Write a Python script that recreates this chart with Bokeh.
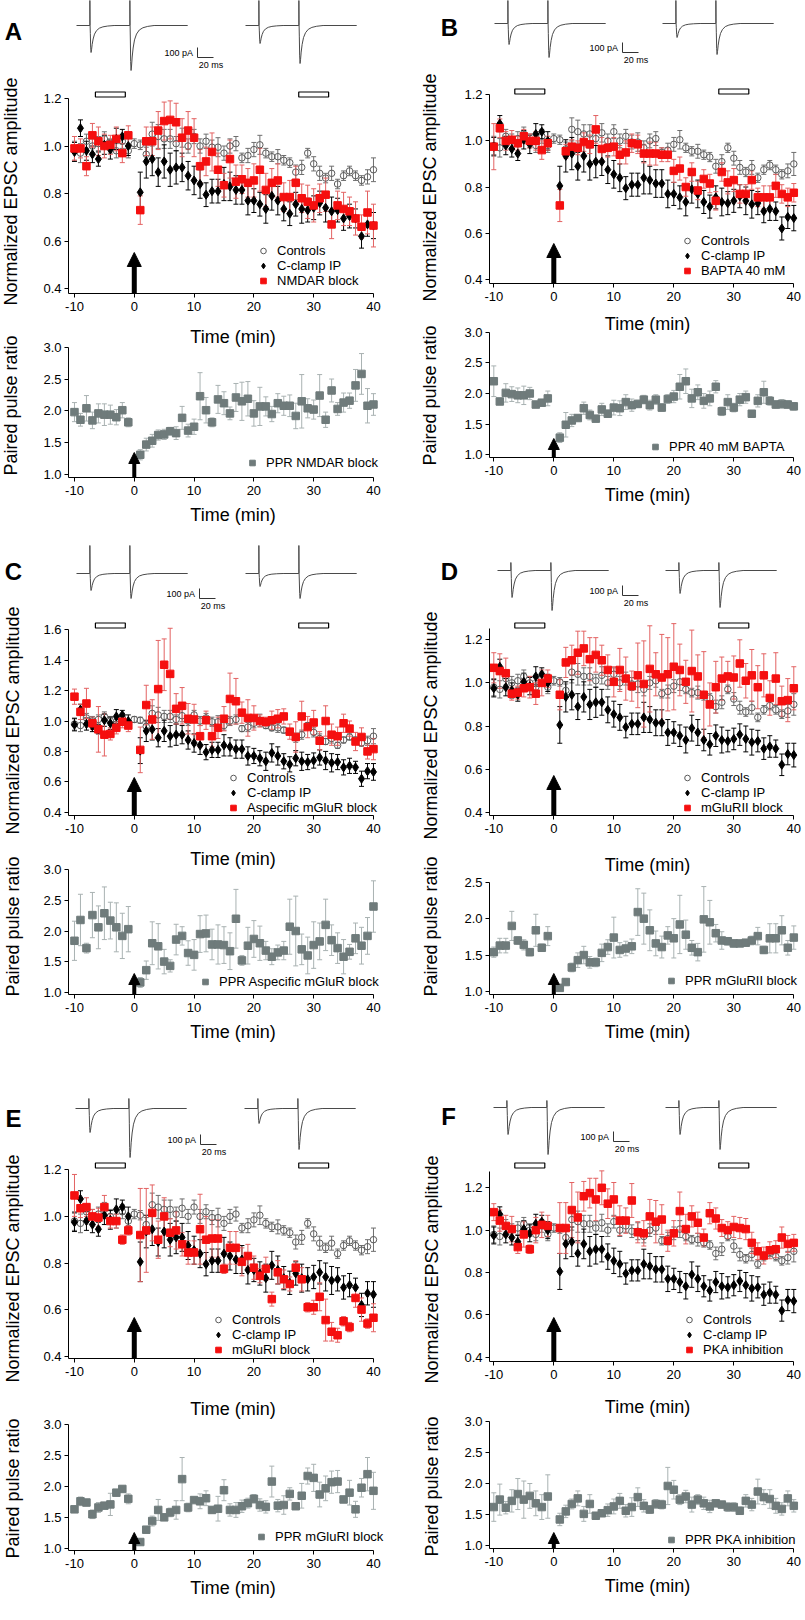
from bokeh.plotting import figure
from bokeh.layouts import row, column
from bokeh.models import (Range1d, FixedTicker, NumeralTickFormatter, Whisker, TeeHead,
                          ColumnDataSource, Legend, LegendItem, Label, Arrow, NormalHead)
from bokeh.embed import file_html
from bokeh.resources import INLINE

FONT = "Liberation Sans"

# ---------------- data ----------------
T_PRE = list(range(-10, 0))
T_POST = list(range(1, 41))
T_CTRL = list(range(-10, 41))
X_TICKS = [-10, 0, 10, 20, 30, 40]
TOP_TICKS = [0.4, 0.6, 0.8, 1.0, 1.2]
TOP_TICKS_C = [0.4, 0.6, 0.8, 1.0, 1.2, 1.4, 1.6]
PPR_TICKS = [1.0, 1.5, 2.0, 2.5, 3.0]
PPR_TICKS_D = [1.0, 1.5, 2.0, 2.5]
BAR_LEFT = [-6.5, 27.5]
BAR_RIGHT = [-1.5, 32.5]

CTRL = [0.98, 0.97, 1.02, 1.00, 1.01, 1.03, 1.00, 0.98, 1.02, 0.98,
        1.01,
        1.005, 0.965, 1.05, 1.04, 1.03, 1.03, 1.01, 1.035, 1.00, 1.04,
        1.00, 1.02, 0.995, 0.995, 0.97, 1.00, 1.01, 0.95, 0.96, 0.985,
        1.005, 0.97, 0.955, 0.955, 0.94, 0.93, 0.89, 0.91, 0.97, 0.925,
        0.885, 0.865, 0.885, 0.84, 0.875, 0.895, 0.875, 0.855, 0.87, 0.90]
CTRL_ERR = [0.04, 0.04, 0.03, 0.03, 0.03, 0.03, 0.03, 0.03, 0.03, 0.03,
            0.02,
            0.02, 0.03, 0.05, 0.05, 0.04, 0.04, 0.03, 0.04, 0.03, 0.03,
            0.03, 0.03, 0.03, 0.04, 0.03, 0.03, 0.03, 0.02, 0.03, 0.03,
            0.04, 0.02, 0.02, 0.03, 0.02, 0.02, 0.03, 0.03, 0.02, 0.03,
            0.03, 0.02, 0.03, 0.02, 0.02, 0.02, 0.02, 0.02, 0.03, 0.05]

CCLAMP = [0.975, 1.075, 0.98, 0.965, 0.945, 1.005, 0.985, 1.03, 1.04, 1.0,
          0.805, 0.935, 0.945, 0.89, 0.935, 0.90, 0.91, 0.91, 0.875, 0.855,
          0.84, 0.795, 0.81, 0.81, 0.84, 0.83, 0.815, 0.815, 0.77, 0.77,
          0.755, 0.735, 0.79, 0.77, 0.735, 0.715, 0.755, 0.735, 0.73, 0.74,
          0.76, 0.74, 0.725, 0.73, 0.695, 0.705, 0.695, 0.62, 0.67, 0.665]
CCLAMP_ERR = [0.04, 0.035, 0.04, 0.035, 0.03, 0.04, 0.04, 0.045, 0.03, 0.04,
              0.085, 0.07, 0.07, 0.06, 0.07, 0.07, 0.07, 0.06, 0.06, 0.06,
              0.06, 0.05, 0.05, 0.05, 0.07, 0.06, 0.06, 0.06, 0.06, 0.05,
              0.05, 0.06, 0.06, 0.06, 0.05, 0.05, 0.05, 0.06, 0.05, 0.05,
              0.05, 0.06, 0.06, 0.05, 0.05, 0.05, 0.04, 0.05, 0.05, 0.055]

NMDAR = [0.99, 0.99, 0.915, 1.045, 1.02, 1.0, 1.005, 1.03, 0.97, 1.045,
         0.73, 1.02, 1.02, 1.065, 1.105, 1.11, 1.10, 1.035, 1.065, 1.035,
         0.915, 0.935, 0.975, 0.90, 0.835, 0.945, 0.85, 0.86, 0.845, 0.855,
         0.90, 0.815, 0.845, 0.855, 0.785, 0.785, 0.845, 0.78, 0.765, 0.75,
         0.78, 0.795, 0.67, 0.75, 0.735, 0.725, 0.695, 0.66, 0.72, 0.665]
NMDAR_ERR = [0.05, 0.04, 0.04, 0.05, 0.06, 0.05, 0.04, 0.05, 0.04, 0.04,
             0.06, 0.06, 0.06, 0.08, 0.08, 0.08, 0.08, 0.08, 0.08, 0.08,
             0.07, 0.06, 0.08, 0.07, 0.05, 0.08, 0.07, 0.06, 0.06, 0.07,
             0.09, 0.07, 0.06, 0.07, 0.06, 0.07, 0.07, 0.06, 0.07, 0.07,
             0.06, 0.07, 0.06, 0.06, 0.07, 0.06, 0.07, 0.05, 0.09, 0.09]
NMDAR_PPR = [1.98, 1.86, 2.04, 1.85, 1.96, 1.94, 1.94, 1.90, 2.01, 1.82,
             1.31, 1.47, 1.53, 1.62, 1.63, 1.68, 1.65, 1.89, 1.69, 1.75,
             2.23, 2.01, 1.82, 2.18, 2.12, 1.96, 2.21, 2.15, 2.19, 1.96,
             2.07, 2.07, 1.95, 2.12, 2.08, 2.08, 1.92, 2.15, 2.04, 2.02,
             2.24, 1.86, 2.32, 2.03, 2.13, 2.16, 2.40, 2.58, 2.08, 2.10]
NMDAR_PPR_ERR = [0.15, 0.1, 0.2, 0.13, 0.15, 0.17, 0.15, 0.12, 0.12, 0.07,
                 0.08, 0.1, 0.1, 0.08, 0.08, 0.06, 0.1, 0.18, 0.1, 0.12,
                 0.37, 0.2, 0.07, 0.22, 0.18, 0.1, 0.22, 0.3, 0.27, 0.2,
                 0.3, 0.15, 0.12, 0.15, 0.15, 0.17, 0.2, 0.42, 0.15, 0.15,
                 0.33, 0.12, 0.18, 0.1, 0.15, 0.12, 0.25, 0.32, 0.27, 0.17]

BAPTA = [0.975, 1.055, 1.0, 1.005, 0.99, 1.02, 1.0, 1.0, 0.96, 0.99,
         0.72, 0.955, 0.975, 0.97, 0.995, 0.985, 1.05, 0.965, 0.97, 0.975,
         0.94, 0.95, 0.99, 0.985, 0.945, 0.945, 0.945, 0.94, 0.94, 0.87,
         0.88, 0.80, 0.865, 0.785, 0.835, 0.815, 0.74, 0.865, 0.82, 0.83,
         0.77, 0.77, 0.83, 0.755, 0.755, 0.755, 0.805, 0.77, 0.755, 0.775]
BAPTA_ERR = [0.1, 0.04, 0.04, 0.04, 0.03, 0.03, 0.03, 0.04, 0.04, 0.03,
             0.07, 0.03, 0.03, 0.03, 0.04, 0.04, 0.06, 0.05, 0.04, 0.04,
             0.04, 0.05, 0.04, 0.04, 0.04, 0.05, 0.05, 0.03, 0.03, 0.05,
             0.05, 0.04, 0.04, 0.04, 0.04, 0.04, 0.04, 0.04, 0.05, 0.05,
             0.04, 0.04, 0.04, 0.04, 0.05, 0.05, 0.05, 0.04, 0.04, 0.04]
BAPTA_PPR = [2.20, 1.87, 2.01, 1.99, 1.97, 1.97, 2.00, 1.82, 1.85, 1.92,
             1.28, 1.49, 1.56, 1.60, 1.76, 1.65, 1.59, 1.74, 1.67, 1.77,
             1.76, 1.86, 1.81, 1.83, 1.90, 1.81, 1.90, 1.77, 1.91, 1.95,
             2.11, 2.20, 1.92, 2.02, 1.88, 1.92, 2.11, 1.71, 1.86, 1.77,
             1.90, 1.94, 1.67, 1.88, 2.02, 1.88, 1.82, 1.83, 1.82, 1.79]
BAPTA_PPR_ERR = [0.25, 0.05, 0.15, 0.12, 0.12, 0.15, 0.1, 0.05, 0.05, 0.12,
                 0.08, 0.2, 0.1, 0.05, 0.1, 0.08, 0.05, 0.1, 0.06, 0.12,
                 0.12, 0.12, 0.1, 0.06, 0.07, 0.08, 0.08, 0.06, 0.07, 0.1,
                 0.2, 0.2, 0.15, 0.12, 0.12, 0.12, 0.1, 0.07, 0.12, 0.07,
                 0.1, 0.1, 0.05, 0.1, 0.18, 0.07, 0.06, 0.07, 0.06, 0.06]

MGLUR = [1.16, 1.06, 1.115, 0.985, 0.945, 0.91, 0.915, 0.955, 0.995, 0.97,
         0.81, 1.105, 1.01, 1.21, 1.37, 1.31, 1.08, 1.10, 1.015, 1.01,
         0.90, 1.005, 0.90, 0.955, 1.015, 1.145, 1.13, 1.055, 1.02, 1.02,
         1.0, 0.995, 1.005, 1.015, 1.03, 0.93, 0.895, 1.03, 0.96, 0.99,
         0.87, 1.0, 0.91, 0.90, 0.985, 0.95, 0.865, 0.895, 0.80, 0.815]
MGLUR_ERR = [0.05, 0.05, 0.1, 0.04, 0.15, 0.14, 0.04, 0.04, 0.04, 0.04,
             0.15, 0.13, 0.13, 0.32, 0.17, 0.3, 0.1, 0.12, 0.1, 0.1,
             0.07, 0.06, 0.07, 0.07, 0.08, 0.17, 0.15, 0.07, 0.12, 0.08,
             0.04, 0.03, 0.06, 0.06, 0.05, 0.05, 0.1, 0.1, 0.07, 0.08,
             0.06, 0.1, 0.07, 0.06, 0.06, 0.05, 0.06, 0.06, 0.05, 0.07]
MGLUR_PPR = [1.84, 2.18, 1.72, 2.26, 2.06, 2.29, 2.17, 2.06, 1.92, 2.03,
             1.16, 1.36, 1.80, 1.75, 1.50, 1.43, 1.86, 1.92, 1.64, 1.61,
             1.95, 1.96, 1.78, 1.78, 1.77, 1.67, 2.20, 1.52, 1.76, 1.87,
             1.80, 1.68, 1.58, 1.65, 1.68, 2.07, 2.00, 1.70, 1.60, 1.77,
             1.83, 2.10, 1.85, 1.72, 1.58, 1.66, 1.88, 1.76, 1.92, 2.40]
MGLUR_PPR_ERR = [0.32, 0.42, 0.08, 0.37, 0.35, 0.43, 0.3, 0.4, 0.37, 0.37,
                 0.08, 0.15, 0.35, 0.37, 0.2, 0.1, 0.25, 0.15, 0.2, 0.25,
                 0.3, 0.3, 0.25, 0.32, 0.3, 0.3, 0.48, 0.08, 0.3, 0.3,
                 0.28, 0.15, 0.13, 0.12, 0.15, 0.45, 0.57, 0.25, 0.3, 0.38,
                 0.3, 0.42, 0.25, 0.25, 0.28, 0.12, 0.25, 0.3, 0.3, 0.42]

MGLURII = [1.07, 1.055, 1.045, 0.95, 0.955, 0.975, 0.98, 0.95, 1.0, 1.02,
           0.945, 1.095, 1.105, 1.14, 1.16, 1.11, 1.13, 1.105, 1.06, 1.005,
           1.06, 1.02, 0.985, 1.035, 0.995, 1.065, 1.04, 1.025, 1.04, 1.075,
           1.06, 1.005, 1.055, 1.03, 0.945, 0.90, 0.98, 1.02, 1.03, 1.025,
           1.09, 1.01, 1.035, 0.98, 1.035, 0.93, 1.02, 0.915, 0.92, 0.975]
MGLURII_ERR = [0.07, 0.08, 0.07, 0.03, 0.03, 0.04, 0.05, 0.05, 0.06, 0.04,
               0.07, 0.07, 0.07, 0.1, 0.08, 0.1, 0.08, 0.07, 0.07, 0.07,
               0.1, 0.1, 0.07, 0.15, 0.2, 0.2, 0.1, 0.2, 0.17, 0.2,
               0.12, 0.1, 0.19, 0.1, 0.2, 0.1, 0.12, 0.1, 0.07, 0.1,
               0.11, 0.08, 0.12, 0.1, 0.1, 0.08, 0.12, 0.07, 0.1, 0.1]
MGLURII_PPR = [1.54, 1.63, 1.63, 1.90, 1.70, 1.64, 1.54, 1.84, 1.60, 1.76,
               1.05, 1.13, 1.33, 1.43, 1.50, 1.40, 1.40, 1.53, 1.61, 1.74,
               1.57, 1.59, 1.62, 2.09, 2.00, 1.84, 1.66, 1.61, 1.77, 1.73,
               1.92, 1.78, 1.60, 1.54, 1.99, 1.95, 1.80, 1.70, 1.69, 1.66,
               1.66, 1.67, 1.70, 1.76, 1.57, 1.73, 1.73, 1.84, 1.60, 1.74]
MGLURII_PPR_ERR = [0.07, 0.1, 0.1, 0.2, 0.05, 0.07, 0.05, 0.22, 0.05, 0.13,
                   0.03, 0.04, 0.06, 0.1, 0.12, 0.08, 0.06, 0.12, 0.1, 0.28,
                   0.1, 0.1, 0.1, 0.32, 0.35, 0.28, 0.17, 0.15, 0.12, 0.27,
                   0.4, 0.2, 0.1, 0.12, 0.45, 0.3, 0.12, 0.12, 0.05, 0.05,
                   0.04, 0.04, 0.06, 0.12, 0.05, 0.2, 0.2, 0.2, 0.1, 0.16]

MGLURI = [1.09, 1.035, 1.04, 1.0, 0.995, 1.04, 0.98, 0.98, 0.90, 0.94,
          0.92, 0.94, 1.015, 0.90, 1.0, 0.93, 0.94, 0.88, 0.845, 0.845,
          0.945, 0.90, 0.905, 0.905, 0.775, 0.865, 0.865, 0.805, 0.83, 0.78,
          0.745, 0.775, 0.645, 0.76, 0.73, 0.71, 0.78, 0.73, 0.61, 0.61,
          0.655, 0.555, 0.505, 0.49, 0.55, 0.525, 0.65, 0.60, 0.54, 0.565]
MGLURI_ERR = [0.09, 0.04, 0.04, 0.03, 0.04, 0.05, 0.03, 0.03, 0.02, 0.02,
              0.2, 0.18, 0.12, 0.08, 0.08, 0.06, 0.08, 0.05, 0.05, 0.05,
              0.15, 0.1, 0.08, 0.08, 0.02, 0.07, 0.07, 0.06, 0.05, 0.05,
              0.03, 0.05, 0.03, 0.05, 0.04, 0.03, 0.03, 0.05, 0.02, 0.03,
              0.06, 0.09, 0.04, 0.03, 0.02, 0.02, 0.04, 0.05, 0.02, 0.06]
MGLURI_PPR = [1.63, 1.76, 1.74, 1.55, 1.66, 1.69, 1.71, 1.90, 1.96, 1.80,
              1.10, 1.30, 1.44, 1.62, 1.50, 1.58, 1.62, 2.12, 1.66, 1.78,
              1.76, 1.81, 1.62, 1.64, 1.94, 1.62, 1.62, 1.68, 1.73, 1.80,
              1.70, 1.67, 2.08, 1.69, 1.70, 1.88, 1.68, 1.85, 2.17, 2.14,
              1.87, 1.97, 2.07, 2.08, 1.79, 1.90, 1.63, 1.98, 2.20, 1.93]
MGLURI_PPR_ERR = [0.03, 0.07, 0.05, 0.07, 0.08, 0.05, 0.18, 0.04, 0.05, 0.08,
                  0.03, 0.05, 0.08, 0.17, 0.03, 0.07, 0.15, 0.35, 0.07, 0.03,
                  0.12, 0.12, 0.05, 0.2, 0.17, 0.1, 0.12, 0.1, 0.08, 0.07,
                  0.1, 0.1, 0.25, 0.1, 0.15, 0.1, 0.03, 0.2, 0.13, 0.22,
                  0.2, 0.2, 0.18, 0.18, 0.05, 0.2, 0.13, 0.15, 0.27, 0.3]

PKA = [1.085, 1.045, 1.02, 1.005, 0.92, 0.98, 0.91, 1.0, 1.025, 1.02,
       1.01, 1.01, 1.095, 1.06, 1.16, 1.175, 1.145, 1.20, 1.125, 1.145,
       1.045, 1.045, 1.14, 0.99, 0.985, 1.065, 1.04, 1.05, 0.95, 0.985,
       1.09, 1.005, 1.065, 1.035, 0.965, 1.08, 1.055, 1.01, 1.0, 1.015,
       1.01, 1.005, 0.94, 0.90, 0.88, 0.905, 0.91, 0.965, 0.935, 0.94]
PKA_ERR = [0.04, 0.05, 0.05, 0.06, 0.03, 0.06, 0.02, 0.06, 0.06, 0.05,
           0.12, 0.12, 0.13, 0.12, 0.07, 0.07, 0.1, 0.08, 0.07, 0.08,
           0.07, 0.06, 0.08, 0.05, 0.06, 0.08, 0.1, 0.07, 0.05, 0.06,
           0.09, 0.07, 0.05, 0.05, 0.04, 0.05, 0.05, 0.04, 0.04, 0.05,
           0.05, 0.05, 0.05, 0.04, 0.04, 0.04, 0.04, 0.05, 0.04, 0.04]
PKA_PPR = [1.62, 1.74, 1.61, 1.72, 1.83, 1.74, 1.80, 1.68, 1.62, 1.79,
           1.42, 1.55, 1.67, 1.76, 1.51, 1.67, 1.48, 1.52, 1.57, 1.63,
           1.72, 1.56, 1.62, 1.78, 1.64, 1.58, 1.67, 1.66, 1.96, 1.90,
           1.74, 1.79, 1.66, 1.74, 1.68, 1.63, 1.68, 1.66, 1.62, 1.62,
           1.56, 1.72, 1.66, 1.87, 1.78, 1.75, 1.64, 1.59, 1.76, 1.64]
PKA_PPR_ERR = [0.23, 0.25, 0.1, 0.18, 0.25, 0.3, 0.2, 0.2, 0.2, 0.35,
               0.1, 0.1, 0.08, 0.12, 0.12, 0.15, 0.04, 0.04, 0.1, 0.12,
               0.12, 0.1, 0.15, 0.15, 0.1, 0.06, 0.07, 0.07, 0.3, 0.15,
               0.08, 0.1, 0.12, 0.08, 0.1, 0.1, 0.05, 0.05, 0.07, 0.07,
               0.06, 0.1, 0.1, 0.2, 0.12, 0.15, 0.12, 0.1, 0.12, 0.1]

PANEL_LETTERS = ["A", "B", "C", "D", "E", "F"]
RED_LABELS = ["NMDAR block", "BAPTA 40 mM", "Aspecific mGluR block",
              "mGluRII block", "mGluRI block", "PKA inhibition"]
PPR_LABELS = ["PPR NMDAR block", "PPR 40 mM BAPTA", "PPR Aspecific mGluR block",
              "PPR mGluRII block", "PPR mGluRI block", "PPR PKA inhibition"]
RED_SERIES = [NMDAR, BAPTA, MGLUR, MGLURII, MGLURI, PKA]
RED_ERRS = [NMDAR_ERR, BAPTA_ERR, MGLUR_ERR, MGLURII_ERR, MGLURI_ERR, PKA_ERR]
PPR_SERIES = [NMDAR_PPR, BAPTA_PPR, MGLUR_PPR, MGLURII_PPR, MGLURI_PPR, PKA_PPR]
PPR_ERRS = [NMDAR_PPR_ERR, BAPTA_PPR_ERR, MGLUR_PPR_ERR, MGLURII_PPR_ERR,
            MGLURI_PPR_ERR, PKA_PPR_ERR]
TOP_TICK_SETS = [TOP_TICKS, TOP_TICKS, TOP_TICKS_C, TOP_TICKS, TOP_TICKS, TOP_TICKS]
PPR_TICK_SETS = [PPR_TICKS, PPR_TICKS, PPR_TICKS, PPR_TICKS_D, PPR_TICKS, PPR_TICKS]

# example EPSC traces (pA vs ms): stimulus times, waveform template and peak amplitudes
STIM_TIMES = [16.7, 66.7]
TRACE_LEN = 139.0
EPSC_T = [0.0, 0.3, 0.7, 1.2, 1.8, 2.6, 3.8, 5.5, 8.0, 11.5, 16.0, 22.0, 30.0]
EPSC_SHAPE = [0.0, -0.3, -0.8, -1.0, -0.9, -0.7, -0.5, -0.32, -0.19, -0.1, -0.05, -0.02, 0.0]
AMP_BEFORE = [[270, 450], [210, 340], [170, 250], [270, 400], [240, 490], [270, 470]]
AMP_AFTER = [[180, 380], [140, 310], [130, 250], [230, 370], [150, 410], [270, 420]]
ARTIFACT = [300, 300, 300, 80, 100, 70]

for s in RED_SERIES + RED_ERRS + PPR_SERIES + PPR_ERRS + [CCLAMP, CCLAMP_ERR]:
    assert len(s) == 50, len(s)
assert len(CTRL) == 51 and len(CTRL_ERR) == 51

# ---------------- colours / styles ----------------
RED = "#f50f0f"
RED_ERR = "#e36262"
BLK = "#000000"
CTRL_COL = "#5a5a5a"
CTRL_ERR_COL = "#6e6e6e"
PPR_COL = "#6f7b7b"
PPR_ERR_COL = "#a9b2b2"
TRACE_COL = "#4a4a4a"

# ---------------- layout (page pixel positions) ----------------
TOTAL_H = 1615
COLS = [dict(strip_left=0, strip_w=36, fig_left=36, fig_w=361, frame_left=68,
             x_start=-11.0, ppm=5.98),
        dict(strip_left=397, strip_w=62, fig_left=459, fig_w=346, frame_left=489,
             x_start=-10.717, ppm=6.0)]
ROWS = [(0, 545), (545, 1085), (1085, TOTAL_H)]

GEOM = [
    dict(top_cal=(1.2, 98.0, 0.4, 288.0), top_axis_px=98, top_xaxis=293, bar_px=94, arrow_px=252, title_px=336,
         ppr_cal=(3.0, 346.7, 1.0, 474.0), ppr_axis_px=347, ppr_xaxis=477, ppr_arrow_px=452,
         leg=(263, 250), ppr_leg=(252, 462), letter=(13, 31), ylab_x=10, ylab_y=(191, 405),
         tr_x0=76, tr_x1=245, tr_base=25, sb_x=197, sb_top=22),
    dict(top_cal=(1.2, 94.3, 0.4, 278.7), top_axis_px=94, top_xaxis=283, bar_px=91, arrow_px=243, title_px=325,
         ppr_cal=(3.0, 331.7, 1.0, 454.3), ppr_axis_px=332, ppr_xaxis=457, ppr_arrow_px=438,
         leg=(687, 240), ppr_leg=(655, 446), letter=(449, 27), ylab_x=429, ylab_y=(187, 395),
         tr_x0=494, tr_x1=662, tr_base=23, sb_x=622, sb_top=19),
    dict(top_cal=(1.6, 629.3, 0.4, 811.7), top_axis_px=629, top_xaxis=815, bar_px=625, arrow_px=777, title_px=858,
         ppr_cal=(3.0, 869.3, 1.0, 991.7), ppr_axis_px=869, ppr_xaxis=994, ppr_arrow_px=973,
         leg=(233, 777), ppr_leg=(205, 981), letter=(13, 571), ylab_x=12, ylab_y=(720, 926),
         tr_x0=76, tr_x1=245, tr_base=573, sb_x=199, sb_top=15),
    dict(top_cal=(1.2, 639.3, 0.4, 811.7), top_axis_px=628, top_xaxis=815, bar_px=625, arrow_px=775, title_px=858,
         ppr_cal=(2.5, 881.7, 1.0, 991.0), ppr_axis_px=882, ppr_xaxis=994, ppr_arrow_px=973,
         leg=(687, 777), ppr_leg=(671, 980), letter=(449, 571), ylab_x=430, ylab_y=(725, 926),
         tr_x0=497, tr_x1=665, tr_base=570, sb_x=622, sb_top=15),
    dict(top_cal=(1.2, 1169.3, 0.4, 1355.7), top_axis_px=1169, top_xaxis=1358, bar_px=1165, arrow_px=1317, title_px=1403,
         ppr_cal=(3.0, 1424.3, 1.0, 1547.7), ppr_axis_px=1424, ppr_xaxis=1550, ppr_arrow_px=1532,
         leg=(218, 1319), ppr_leg=(261, 1536), letter=(13, 1118), ylab_x=12, ylab_y=(1268, 1488),
         tr_x0=75, tr_x1=244, tr_base=1108, sb_x=200, sb_top=26),
    dict(top_cal=(1.2, 1187.3, 0.4, 1356.7), top_axis_px=1171, top_xaxis=1361, bar_px=1165, arrow_px=1317, title_px=1403,
         ppr_cal=(3.0, 1421.0, 1.0, 1545.0), ppr_axis_px=1421, ppr_xaxis=1548, ppr_arrow_px=1532,
         leg=(689, 1319), ppr_leg=(671, 1539), letter=(448, 1116), ylab_x=431, ylab_y=(1269, 1486),
         tr_x0=493, tr_x1=665, tr_base=1107, sb_x=613, sb_top=24),
]
PX_PER_MS = 0.8
PX_PER_PA = 0.1


def px_to_val(cal, px):
    v1, p1, v2, p2 = cal
    s = (p2 - p1) / (v1 - v2)
    return v1 + (p1 - px) / s


def px_per_unit(cal):
    v1, p1, v2, p2 = cal
    return (p2 - p1) / (v1 - v2)


def style_axes(p, x_start):
    p.xgrid.visible = False
    p.ygrid.visible = False
    p.outline_line_color = None
    p.background_fill_color = "white"
    p.border_fill_color = "white"
    for ax in p.axis:
        ax.axis_line_color = "black"
        ax.axis_line_width = 1
        ax.major_tick_line_color = "black"
        ax.major_tick_out = 4
        ax.major_tick_in = 0
        ax.minor_tick_line_color = None
        ax.major_label_text_font = FONT
        ax.major_label_text_font_size = "13px"
        ax.major_label_text_color = "black"
        ax.axis_label_text_font = FONT
        ax.axis_label_text_font_size = "18px"
        ax.axis_label_text_font_style = "normal"
        ax.axis_label_text_color = "black"
    p.xaxis.ticker = FixedTicker(ticks=X_TICKS)
    p.xaxis.formatter = NumeralTickFormatter(format="0")
    p.xaxis.bounds = (x_start, 40)
    p.xaxis.major_label_standoff = 4
    p.yaxis.formatter = NumeralTickFormatter(format="0.0")
    p.yaxis.major_label_standoff = 3


def add_errorbars(p, x, y, e, color):
    src = ColumnDataSource(dict(x=x, lo=[a - b for a, b in zip(y, e)], hi=[a + b for a, b in zip(y, e)]))
    w = Whisker(source=src, base="x", lower="lo", upper="hi", dimension="height",
                line_color=color, line_width=1, level="underlay",
                lower_head=TeeHead(size=5, line_color=color, line_width=1),
                upper_head=TeeHead(size=5, line_color=color, line_width=1))
    p.add_layout(w)


def make_legend(p, items, glyph_cx, first_cy, frame_left, frame_bottom):
    n = len(items)
    pitch = 15
    left = glyph_cx - 7
    bottom = first_cy - pitch / 2 + n * pitch
    leg = Legend(items=items, location=(left - frame_left, frame_bottom - bottom),
                 orientation="vertical", label_text_font=FONT, label_text_font_size="13px",
                 label_text_color="black", glyph_width=14, glyph_height=pitch, label_height=pitch,
                 label_standoff=7, spacing=0, padding=0, margin=0,
                 border_line_color=None, background_fill_alpha=0)
    p.add_layout(leg)


def build_trace(amps, art, t0):
    xs, ys = [t0], [0.0]
    for st, a in zip(STIM_TIMES, amps):
        xs += [t0 + st, t0 + st, t0 + st + 0.25]
        ys += [0.0, float(art), 0.0]
        for tt, sh in zip(EPSC_T, EPSC_SHAPE):
            xs.append(t0 + st + 0.3 + tt)
            ys.append(sh * a)
    xs.append(t0 + TRACE_LEN)
    ys.append(0.0)
    return xs, ys


def make_strip(c):
    s = figure(width=c["strip_w"], height=TOTAL_H, title=None,
               x_range=Range1d(c["strip_left"], c["strip_left"] + c["strip_w"]),
               y_range=Range1d(TOTAL_H, 0),
               x_axis_location=None, y_axis_location=None,
               toolbar_location=None, output_backend="svg", min_border=0)
    s.xgrid.visible = False
    s.ygrid.visible = False
    s.outline_line_color = None
    return s


strips = [make_strip(COLS[0]), make_strip(COLS[1])]
col_figs = [[], []]

for i, letter in enumerate(PANEL_LETTERS):
    g = GEOM[i]
    ci = i % 2
    c = COLS[ci]
    strip = strips[ci]
    row_top, row_bottom = ROWS[i // 2]
    W = c["fig_w"]
    frame_left = c["frame_left"]
    fig_right = c["fig_left"] + W
    ml = frame_left - c["fig_left"]
    x_end = c["x_start"] + (fig_right - frame_left) / c["ppm"]

    # --- vertical geometry (integers)
    top_frame_top = int(min(g["bar_px"], g["top_axis_px"]) - 5)
    top_fig_top = top_frame_top - 2
    boundary = int(g["top_xaxis"] + 22)
    ppr_frame_top = int(g["ppr_axis_px"] - 2)

    # --- panel letter and y-axis titles (left strip)
    strip.add_layout(Label(x=g["letter"][0], y=g["letter"][1], text=letter,
                           text_align="center", text_baseline="middle", text_font=FONT,
                           text_font_size="24px", text_font_style="bold", text_color="black"))
    for txt, yy in (("Normalized EPSC amplitude", g["ylab_y"][0]), ("Paired pulse ratio", g["ylab_y"][1])):
        strip.add_layout(Label(x=g["ylab_x"], y=yy, text=txt, angle=90, angle_units="deg",
                               text_align="center", text_baseline="middle", text_font=FONT,
                               text_font_size="18px", text_color="black"))

    # --- trace figure
    tcal_x = lambda px: (px - g["tr_x0"]) / PX_PER_MS
    tcal_y = lambda py: (g["tr_base"] - py) / PX_PER_PA
    tp = figure(width=W, height=top_fig_top - row_top, title=None,
                x_range=Range1d(tcal_x(frame_left), tcal_x(fig_right)),
                y_range=Range1d(tcal_y(top_fig_top), tcal_y(row_top)),
                x_axis_location=None, y_axis_location=None,
                toolbar_location=None, output_backend="svg",
                min_border_left=ml, min_border_right=0, min_border_top=0, min_border_bottom=0)
    tp.xgrid.visible = False
    tp.ygrid.visible = False
    tp.outline_line_color = None
    for amps, x0px in ((AMP_BEFORE[i], g["tr_x0"]), (AMP_AFTER[i], g["tr_x1"])):
        xs, ys = build_trace(amps, ARTIFACT[i], tcal_x(x0px))
        tp.line(xs, ys, line_color=TRACE_COL, line_width=1)
    sbx = tcal_x(g["sb_x"])
    sb_y0 = -g["sb_top"] / PX_PER_PA
    sb_y1 = sb_y0 - 100.0
    tp.line([sbx, sbx, sbx + 20.0], [sb_y0, sb_y1, sb_y1], line_color="#333333", line_width=1)
    tp.add_layout(Label(x=sbx - 5.5, y=sb_y1 + 50.0, text="100 pA", text_align="right",
                        text_baseline="middle", text_font=FONT, text_font_size="9px",
                        text_color="black"))
    tp.add_layout(Label(x=sbx + 1.5, y=sb_y1 - 75.0, text="20 ms", text_align="left",
                        text_baseline="middle", text_font=FONT, text_font_size="9px",
                        text_color="black"))

    # --- top (EPSC amplitude) figure
    tc = g["top_cal"]
    ybot = px_to_val(tc, g["top_xaxis"])
    ytop = px_to_val(tc, top_frame_top)
    p = figure(width=W, height=boundary - top_fig_top, title=None,
               x_range=Range1d(c["x_start"], x_end), y_range=Range1d(ybot, ytop),
               toolbar_location=None, output_backend="svg",
               min_border_left=ml, min_border_right=0,
               min_border_top=2, min_border_bottom=boundary - int(g["top_xaxis"]))
    style_axes(p, c["x_start"])
    p.yaxis.ticker = FixedTicker(ticks=TOP_TICK_SETS[i])
    p.yaxis.bounds = (ybot, px_to_val(tc, g["top_axis_px"]))
    bar_y = px_to_val(tc, g["bar_px"])
    p.quad(left=BAR_LEFT, right=BAR_RIGHT,
           bottom=[bar_y - 2.5 / px_per_unit(tc)] * 2, top=[bar_y + 2.5 / px_per_unit(tc)] * 2,
           fill_color="white", line_color="black", line_width=1.2)
    add_errorbars(p, T_CTRL, CTRL, CTRL_ERR, CTRL_ERR_COL)
    add_errorbars(p, T_PRE + T_POST, CCLAMP, CCLAMP_ERR, BLK)
    add_errorbars(p, T_PRE + T_POST, RED_SERIES[i], RED_ERRS[i], RED_ERR)
    r_ctrl = p.scatter(T_CTRL, CTRL, marker="circle", size=6.5, fill_color=None,
                       line_color=CTRL_COL, line_width=1)
    r_cc = p.scatter(T_PRE + T_POST, CCLAMP, marker="diamond", size=9, fill_color=BLK,
                     line_color=BLK)
    r_red = p.scatter(T_PRE + T_POST, RED_SERIES[i], marker="square", size=7.5,
                      fill_color=RED, line_color=RED)
    p.add_layout(Arrow(end=NormalHead(size=14, fill_color="black", line_color="black"),
                       x_start=0, y_start=ybot, x_end=0, y_end=px_to_val(tc, g["arrow_px"]),
                       line_width=5, line_color="black"))
    make_legend(p, [LegendItem(label="Controls", renderers=[r_ctrl]),
                    LegendItem(label="C-clamp IP", renderers=[r_cc]),
                    LegendItem(label=RED_LABELS[i], renderers=[r_red])],
                g["leg"][0], g["leg"][1], frame_left, g["top_xaxis"])

    # --- PPR figure (its title is the time axis title of the amplitude plot above)
    pc = g["ppr_cal"]
    pbot = px_to_val(pc, g["ppr_xaxis"])
    ptop = px_to_val(pc, ppr_frame_top)
    q = figure(width=W, height=row_bottom - boundary, title="Time (min)",
               x_range=Range1d(c["x_start"], x_end), y_range=Range1d(pbot, ptop),
               toolbar_location=None, output_backend="svg",
               min_border_left=ml, min_border_right=0,
               min_border_top=ppr_frame_top - boundary,
               min_border_bottom=row_bottom - int(g["ppr_xaxis"]))
    q.title.text_font = FONT
    q.title.text_font_size = "18px"
    q.title.text_font_style = "normal"
    q.title.text_color = "black"
    q.title.align = "center"
    q.title.offset = 8
    q.title.standoff = int(round(ppr_frame_top - g["title_px"] - 10.5))
    style_axes(q, c["x_start"])
    q.yaxis.ticker = FixedTicker(ticks=PPR_TICK_SETS[i])
    q.yaxis.bounds = (pbot, pc[0])
    q.xaxis.axis_label = "Time (min)"
    q.xaxis.axis_label_standoff = 7
    add_errorbars(q, T_PRE + T_POST, PPR_SERIES[i], PPR_ERRS[i], PPR_ERR_COL)
    r_ppr = q.scatter(T_PRE + T_POST, PPR_SERIES[i], marker="square", size=7.5,
                      fill_color=PPR_COL, line_color=PPR_COL)
    q.add_layout(Arrow(end=NormalHead(size=11, fill_color="black", line_color="black"),
                       x_start=0, y_start=pbot, x_end=0, y_end=px_to_val(pc, g["ppr_arrow_px"]),
                       line_width=4, line_color="black"))
    make_legend(q, [LegendItem(label=PPR_LABELS[i], renderers=[r_ppr])],
                g["ppr_leg"][0], g["ppr_leg"][1], frame_left, g["ppr_xaxis"])

    col_figs[ci] += [tp, p, q]

layout = row(strips[0], column(*col_figs[0], spacing=0),
             strips[1], column(*col_figs[1], spacing=0), spacing=0)

open("out.html", "w").write(file_html(layout, INLINE))
